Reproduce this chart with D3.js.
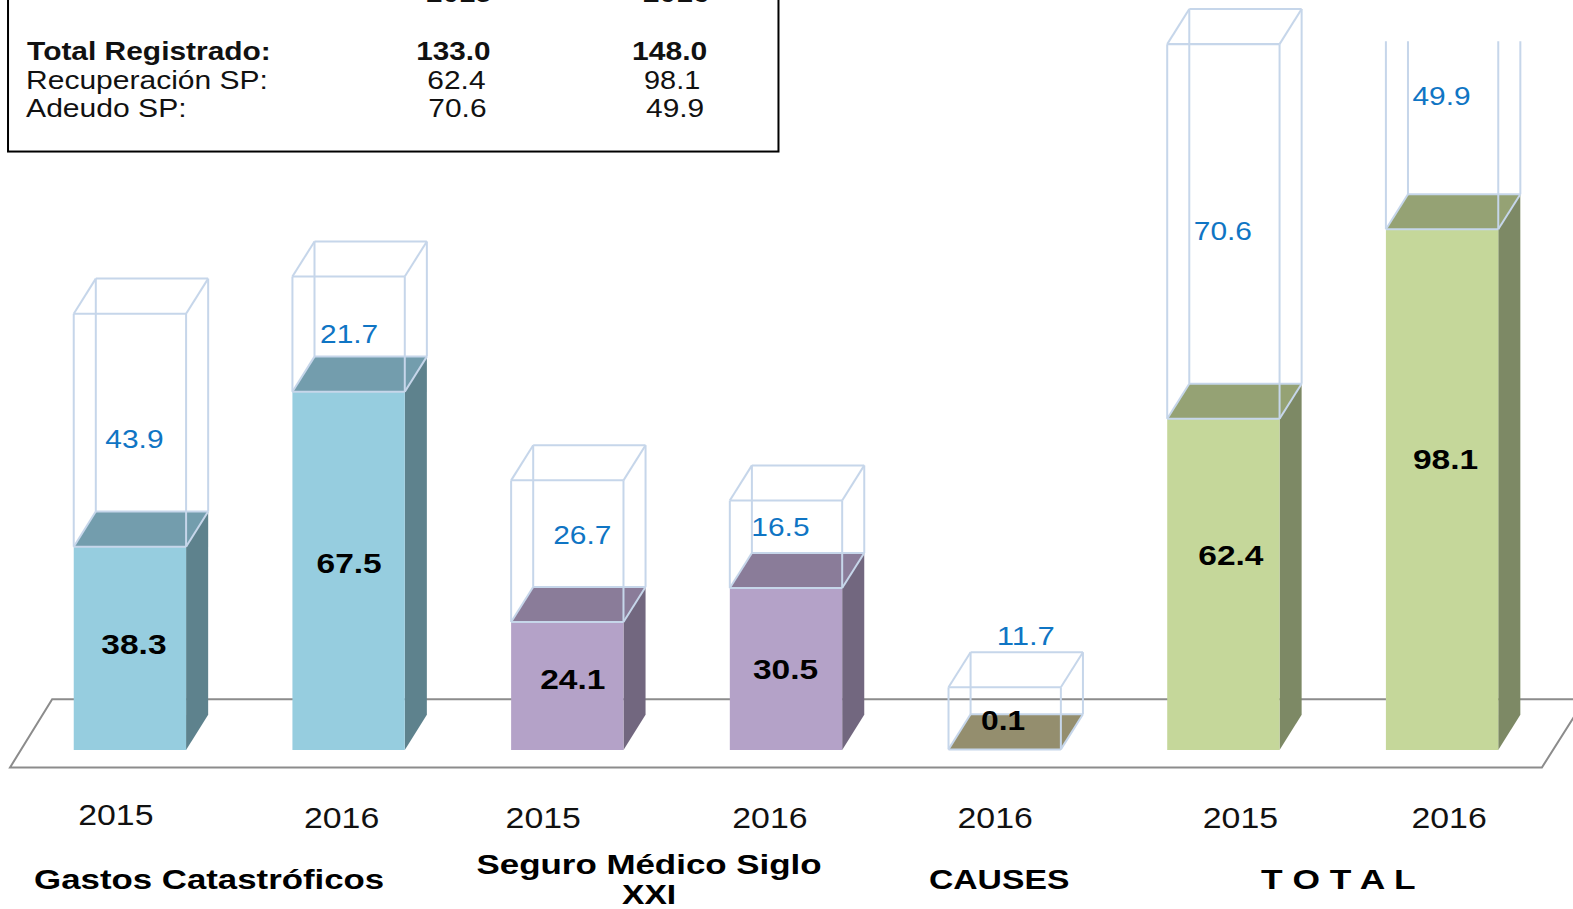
<!DOCTYPE html>
<html><head><meta charset="utf-8">
<script src="https://cdn.jsdelivr.net/npm/d3@7"></script>
<style>html,body{margin:0;padding:0;background:#fff;overflow:hidden}svg{display:block}text{font-family:"Liberation Sans",Arial,sans-serif}</style>
</head><body><svg id="c" width="1573" height="909" viewBox="0 0 1568 906"></svg>
<script>
// --- data
const years = ["2015","2016","2015","2016","2016","2015","2016"];
const recovered = [38.3,67.5,24.1,30.5,0.1,62.4,98.1];
const owed = [43.9,21.7,26.7,16.5,11.7,70.6,49.9];
const tableRows = ["Total Registrado:","Recuperación SP:","Adeudo SP:"];
const tableYears = ["2015","2016"];
const table2015 = ["133.0","62.4","70.6"];
const table2016 = ["148.0","98.1","49.9"];
const groupLabels = ["Gastos Catastróficos","Seguro Médico Siglo","XXI","CAUSES","T O T A L"];
const fills = ["#96cddf","#96cddf","#b4a2c8","#b4a2c8","#948e6e","#c5d79a","#c5d79a"];
const tops = ["#739dad","#739dad","#8a7c99","#8a7c99","#948e6e","#95a274","#95a274"];
const sides = ["#5e828d","#5e828d","#72677f","#72677f","#7a7560","#7d8965","#7d8965"];

// --- layout nudges (label offsets away from the bar's centre)
const blueDx = [4.5,0.5,15,-5.5,21,-0.5,-0.5], blueDy = [17.5,8.5,-7,-8,-73.5,8.5,8.5];
const blackDx = [4,0.5,5.5,-0.5,-1.5,7.5,3.5], blackDy = [5.5,2.5,3.5,9.5,-19.5,-19.5,-20.5];
const yearCx = [115.5,340.5,541.5,767.5,992,1236.5,1444.5], yearBase = [822,825,825,825,825,825,825];
const groupBox = [[34,383,886],[475,819,871],[620,674,901],[926,1066,886],[1257,1411,886]];

const svg = d3.select("#c");
const bw = 112, step = 218;
const x = d3.scaleBand().domain(d3.range(years.length))
  .range([73.5,73.5+step*years.length-106]).paddingInner(106/218).paddingOuter(0).align(0);
const y = d3.scaleLinear().domain([0,148]).range([747.5,747.5-5.29*148]);
const dX = 22, dY = -35;
const poly = p => "M"+p.map(q=>q.join(",")).join("L")+"Z";
const line = d3.line();

function txt(str,l,r,base,size,bold,color){
  return svg.append("text").attr("x",l).attr("y",base).attr("font-size",size)
    .attr("font-weight",bold?"bold":"normal").attr("fill",color||"#000").text(str)
    .attr("textLength",r-l).attr("lengthAdjust","spacingAndGlyphs");
}
function txtC(str,cx,w,base,size,bold,color){return txt(str,cx-w/2,cx+w/2,base,size,bold,color);}

// floor
svg.append("path").attr("d",line([[1600,697],[52,697],[10,765],[1537,765],[1580,697]]))
  .attr("fill","none").attr("stroke","#8c8c8c").attr("stroke-width",2);

svg.append("defs").append("clipPath").attr("id","ceil").append("rect").attr("x",0).attr("y",41).attr("width",1568).attr("height",900);

// bars
years.forEach((_,i)=>{
  const l=x(i), r=l+bw, yb=y(0), yt=y(recovered[i]), yw=y(recovered[i]+owed[i]);
  const solid=svg.append("g");
  if(recovered[i]>=1){
    solid.append("path").attr("d",poly([[r,yt],[r+dX,yt+dY],[r+dX,yb+dY],[r,yb]])).attr("fill",sides[i]);
    solid.append("path").attr("d",poly([[l,yt],[l+dX,yt+dY],[r+dX,yt+dY],[r,yt]])).attr("fill",tops[i]);
    solid.append("path").attr("d",poly([[l,yb],[r,yb],[r,yt],[l,yt]])).attr("fill",fills[i]);
  } else {
    solid.append("path").attr("d",poly([[l,yt],[l+dX,yt+dY],[r+dX,yt+dY],[r,yt]])).attr("fill",tops[i]);
  }
  const g=svg.append("g").attr("fill","none").attr("stroke","#c6d6ea").attr("stroke-width",2);
  if(yw<0) g.attr("clip-path","url(#ceil)");
  const segs=[
    [[l,yt],[l,yw]],[[r,yt],[r,yw]],[[l+dX,yt+dY],[l+dX,yw+dY]],[[r+dX,yt+dY],[r+dX,yw+dY]],
    [[l,yw],[r,yw]],[[l+dX,yw+dY],[r+dX,yw+dY]],[[l,yw],[l+dX,yw+dY]],[[r,yw],[r+dX,yw+dY]],
    [[l,yt],[r,yt]],[[l,yt],[l+dX,yt+dY]],[[r,yt],[r+dX,yt+dY]],[[l+dX,yt+dY],[r+dX,yt+dY]]
  ];
  segs.forEach(s=>g.append("path").attr("d",line(s)));
});

// value labels
years.forEach((_,i)=>{
  const cx=x(i)+bw/2;
  const w1=owed[i].toFixed(1).length===4?58:44;
  txtC(owed[i].toFixed(1),cx+blueDx[i],w1,y(recovered[i]+owed[i]/2)+blueDy[i],26,false,"#0f75c4");
  const w2=recovered[i].toFixed(1).length===4?65:44;
  txtC(recovered[i].toFixed(1),cx+blackDx[i],w2,y(recovered[i]/2)+blackDy[i],27,true,"#000");
  txtC(years[i],yearCx[i],75,yearBase[i],29,false,"#111");
});

// group labels
groupLabels.forEach((s,i)=>{const b=groupBox[i];txt(s,b[0],b[1],b[2],27,true,"#000");});

// table box
svg.append("rect").attr("x",8).attr("y",-6).attr("width",768).attr("height",157)
  .attr("fill","#fff").attr("stroke","#000").attr("stroke-width",2);
const rowBase=[60,89,117];
const rowSpans=[[27,270],[26,267],[26,186]];
const c15=[[415,489],[426,484],[427,485]], c16=[[630,705],[642,698],[644,702]];
tableRows.forEach((s,i)=>{
  const b=i===0;
  txt(s,rowSpans[i][0],rowSpans[i][1],rowBase[i],25,b,"#111");
  txt(table2015[i],c15[i][0],c15[i][1],rowBase[i],25,b,"#111");
  txt(table2016[i],c16[i][0],c16[i][1],rowBase[i],25,b,"#111");
});
txt(tableYears[0],425,490,2,25,true,"#111");
txt(tableYears[1],641,707,2,25,true,"#111");
</script></body></html>
